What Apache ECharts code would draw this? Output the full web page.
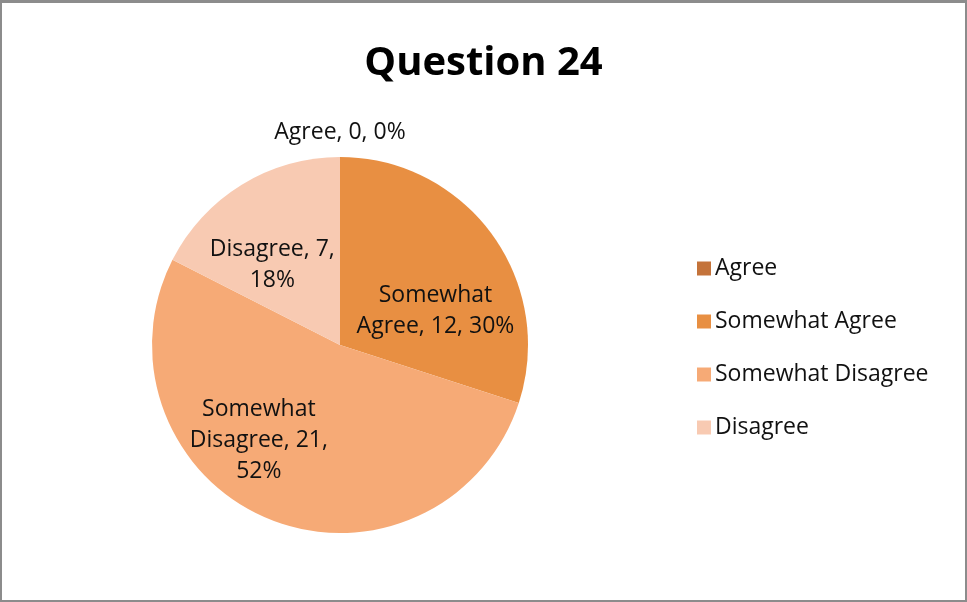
<!DOCTYPE html>
<html>
<head>
<meta charset="utf-8">
<script src="https://cdn.jsdelivr.net/npm/echarts@6/dist/echarts.min.js"></script>
<style>
  html, body { margin: 0; padding: 0; background: #fff; }
  #main {
    width: 967px;
    height: 602px;
    box-sizing: border-box;
    border: 2px solid #8c8c8c;
    border-top-width: 3px;
  }
</style>
</head>
<body>
<div id="main"></div>
<script>
// 数据
const categories = ["Agree", "Somewhat Agree", "Somewhat Disagree", "Disagree"];
const counts = [0, 12, 21, 7];
const percentLabels = ["0%", "30%", "52%", "18%"];
const colors = ["#c4733a", "#e88f42", "#f6aa76", "#f8cab2"];

// label line breaks as shown in the picture
const labelText = [
  (i) => `${categories[i]}, ${counts[i]}, ${percentLabels[i]}`,
  (i) => `Somewhat\nAgree, ${counts[i]}, ${percentLabels[i]}`,
  (i) => `Somewhat\nDisagree, ${counts[i]},\n${percentLabels[i]}`,
  (i) => `Disagree, ${counts[i]},\n${percentLabels[i]}`,
];
// label nudges (Excel best fit)
const labelOffsets = [[0, -116], [17, 23], [-44, 6], [-17, 3]];

const chart = echarts.init(document.getElementById("main"));

const options = {
  animation: false,
  title: {
    text: "Question 24",
    left: "center",
    top: 36,
    textStyle: {
      fontFamily: "Open Sans",
      fontWeight: "bold",
      fontSize: 40,
      color: "#000",
    },
  },
  legend: {
    orient: "vertical",
    left: 690,
    top: 249,
    itemWidth: 14,
    itemHeight: 14,
    itemGap: 30,
    icon: "rect",
    data: categories,
    textStyle: {
      fontFamily: "Open Sans",
      fontSize: 23,
      color: "#111",
      lineHeight: 20,
      padding: [0, 0, 0, -1],
    },
  },
  series: [
    {
      type: "pie",
      center: [338, 342],
      radius: [0, 188],
      startAngle: 90,
      clockwise: true,
      avoidLabelOverlap: false,
      label: {
        show: true,
        position: "inside",
        fontFamily: "Open Sans",
        fontSize: 23,
        lineHeight: 31,
        color: "#111",
        align: "center",
      },
      labelLine: { show: false },
      emphasis: { disabled: true },
      data: categories.map((name, i) => ({
        name,
        value: counts[i],
        itemStyle: { color: colors[i] },
        label: {
          formatter: () => labelText[i](i),
          offset: labelOffsets[i],
        },
      })),
    },
  ],
};

chart.setOption(options);
</script>
</body>
</html>
